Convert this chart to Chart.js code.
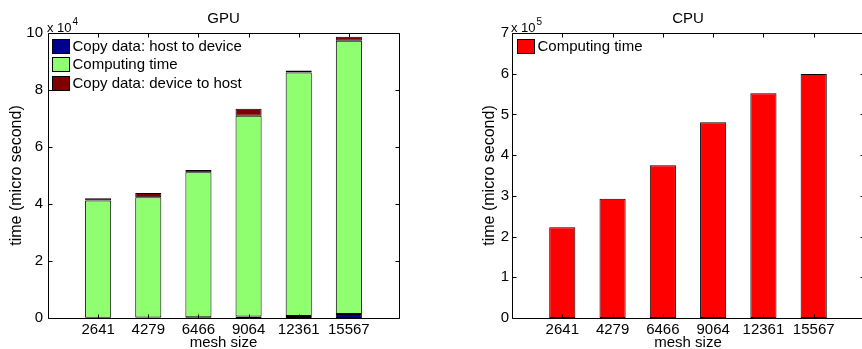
<!DOCTYPE html>
<html>
<head>
<meta charset="utf-8">
<script src="https://cdn.jsdelivr.net/npm/chart.js@4/dist/chart.umd.min.js"></script>
<style>
  html, body { margin: 0; padding: 0; background: #fff; overflow: hidden; width: 862px; height: 349px; }
  #wrap { position: relative; width: 862px; height: 349px; overflow: hidden; }
  canvas { position: absolute; top: 0; }
  #gpu { left: 0; }
  #cpu { left: 430px; }
</style>
</head>
<body>
<div id="wrap">
  <canvas id="gpu" width="430" height="349"></canvas>
  <canvas id="cpu" width="460" height="349"></canvas>
</div>
<script>
// Mesh sizes on the horizontal axis
const meshSizes = ['2641', '4279', '6466', '9064', '12361', '15567'];

// GPU timings (micro seconds), stacked per mesh size
const gpuHostToDevice = [100, 150, 250, 500, 700, 1400];
const gpuComputing    = [41100, 42200, 50900, 70500, 85400, 95900];
const gpuDeviceToHost = [800, 1500, 800, 2400, 700, 1400];

// CPU timings (micro seconds)
const cpuComputing = [223000, 293000, 375000, 481000, 552000, 599000];

// Y tick labels, shown in units of the axis multiplier
const gpuTickLabels = [0, 2, 4, 6, 8, 10];        // x 10^4
const cpuTickLabels = [0, 1, 2, 3, 4, 5, 6, 7];   // x 10^5

const FONT = "'Liberation Sans', Arial, Helvetica, sans-serif";
Chart.defaults.font.family = FONT;
Chart.defaults.font.size = 15;
Chart.defaults.color = '#000';

// one empty slot on each side of the bars, so the categories sit at 1..6 on a 0..7 axis
const padLabels = ['', ...meshSizes, ''];
const pad = arr => [null, ...arr, null];

// Box frame, inward tick marks on all four sides, plot title, axis multiplier and legend
function boxPlugin(cfg) {
  return {
    id: 'box',
    afterDraw(chart) {
      const { ctx, chartArea: a, scales: { x, y } } = chart;
      const L = Math.round(a.left) + 0.5, R = Math.round(a.right) + 0.5;
      const T = Math.round(a.top) + 0.5, B = Math.round(a.bottom) + 0.5;
      const tl = 4;
      ctx.save();
      ctx.strokeStyle = '#000';
      ctx.lineWidth = 1;
      ctx.beginPath();
      ctx.rect(L, T, R - L, B - T);
      y.ticks.forEach(t => {
        const py = Math.round(y.getPixelForValue(t.value)) + 0.5;
        ctx.moveTo(L, py); ctx.lineTo(L + tl, py);
        ctx.moveTo(R, py); ctx.lineTo(R - tl, py);
      });
      for (let i = 1; i <= meshSizes.length; i++) {
        const px = Math.round(x.getPixelForValue(i)) + 0.5;
        ctx.moveTo(px, B); ctx.lineTo(px, B - tl);
        ctx.moveTo(px, T); ctx.lineTo(px, T + tl);
      }
      ctx.stroke();

      ctx.fillStyle = '#000';
      ctx.textBaseline = 'alphabetic';
      ctx.font = '15px ' + FONT;
      ctx.textAlign = 'center';
      ctx.fillText(cfg.title, (a.left + a.right) / 2, 23);

      ctx.textAlign = 'left';
      ctx.font = '13px ' + FONT;
      const ex = a.left - 1;
      ctx.fillText('x 10', ex, 32);
      const w = ctx.measureText('x 10').width;
      ctx.font = '10px ' + FONT;
      ctx.fillText(cfg.exponent, ex + w + 1, 25);

      ctx.font = '15px ' + FONT;
      ctx.textBaseline = 'middle';
      chart.data.datasets.forEach((ds, i) => {
        const bx = Math.round(a.left + cfg.legendDx) + 0.5;
        const by = Math.round(39 + i * 18.3) + 0.5;
        ctx.fillStyle = ds.backgroundColor;
        ctx.fillRect(bx, by, 17, 14);
        ctx.strokeRect(bx, by, 17, 14);
        ctx.fillStyle = '#000';
        ctx.fillText(ds.label, bx + 20, by + 7.5);
      });
      ctx.restore();
    }
  };
}

function makeChart(id, datasets, opts) {
  return new Chart(document.getElementById(id), {
    type: 'bar',
    data: { labels: padLabels, datasets },
    options: {
      responsive: false,
      animation: false,
      devicePixelRatio: 1,
      layout: { padding: { left: 0, right: opts.padRight, top: 33, bottom: 0 } },
      datasets: {
        bar: {
          borderColor: '#000',
          borderWidth: 1,
          borderSkipped: false,
          categoryPercentage: 1,
          barPercentage: 0.52
        }
      },
      plugins: { legend: { display: false }, tooltip: { enabled: false }, title: { display: false } },
      scales: {
        x: {
          type: 'category',
          stacked: true,
          offset: false,
          grid: { display: false, drawTicks: false },
          border: { display: false },
          ticks: { padding: 3, maxRotation: 0, autoSkip: false, font: { size: 15 } },
          title: { display: true, text: 'mesh size', font: { size: 15 }, padding: { top: 0, bottom: -3 } },
          afterFit: s => { s.height = 31; }
        },
        y: {
          stacked: true,
          min: 0,
          max: opts.tickLabels[opts.tickLabels.length - 1] * opts.mult,
          grid: { display: false, drawTicks: false },
          border: { display: false },
          afterBuildTicks: s => { s.ticks = opts.tickLabels.map(v => ({ value: v * opts.mult })); },
          ticks: { padding: opts.yTickPad, font: { size: 15 }, callback: v => String(Math.round(v / opts.mult)) },
          title: { display: true, text: 'time (micro second)', font: { size: 16 }, padding: { top: opts.yTitlePad, bottom: 0 } },
          afterFit: s => { s.width = opts.yWidth; }
        }
      }
    },
    plugins: [boxPlugin(opts)]
  });
}

makeChart('gpu', [
  { label: 'Copy data: host to device', data: pad(gpuHostToDevice), backgroundColor: 'rgb(0,0,143)' },
  { label: 'Computing time', data: pad(gpuComputing), backgroundColor: 'rgb(143,255,112)' },
  { label: 'Copy data: device to host', data: pad(gpuDeviceToHost), backgroundColor: 'rgb(128,0,0)' }
], { title: 'GPU', exponent: '4', mult: 1e4, tickLabels: gpuTickLabels, padRight: 31, yWidth: 48, yTickPad: 5, yTitlePad: 7, legendDx: 4 });

makeChart('cpu', [
  { label: 'Computing time', data: pad(cpuComputing), backgroundColor: 'rgb(255,0,0)' }
], { title: 'CPU', exponent: '5', mult: 1e5, tickLabels: cpuTickLabels, padRight: 26, yWidth: 82, yTickPad: 3, yTitlePad: 50, legendDx: 5 });
</script>
</body>
</html>
